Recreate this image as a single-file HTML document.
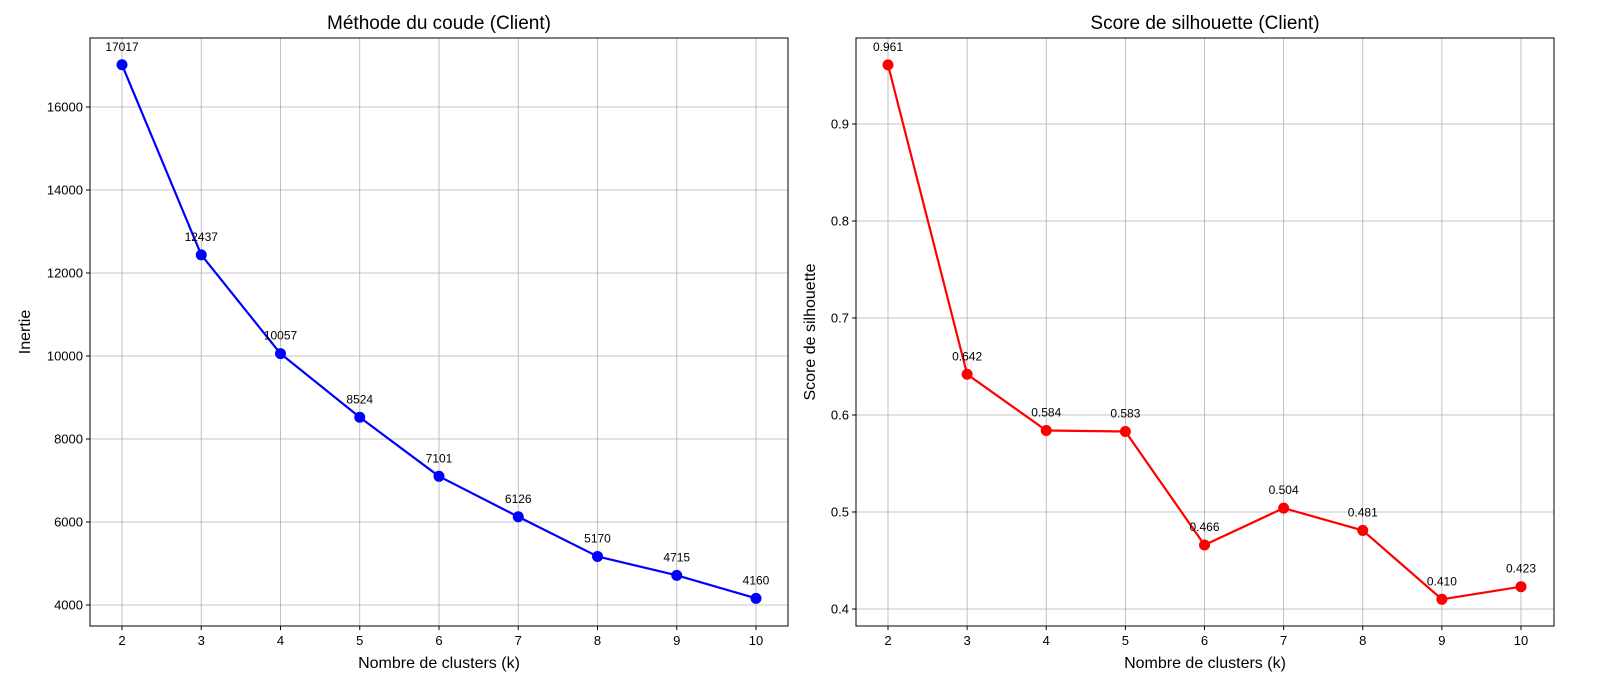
<!DOCTYPE html>
<html><head><meta charset="utf-8">
<style>
body{margin:0;background:#fff;}
svg{display:block;font-family:"Liberation Sans","DejaVu Sans",sans-serif;}
</style></head>
<body>
<svg id="chart" width="1600" height="700" viewBox="0 0 1600 700" xmlns="http://www.w3.org/2000/svg"></svg>
<script>
const kValues = [2,3,4,5,6,7,8,9,10];
const inertiaValues = [17017,12437,10057,8524,7101,6126,5170,4715,4160];
const inertiaLabels = ["17017","12437","10057","8524","7101","6126","5170","4715","4160"];
const silhouetteValues = [0.961,0.642,0.584,0.583,0.466,0.504,0.481,0.410,0.423];
const silhouetteLabels = ["0.961","0.642","0.584","0.583","0.466","0.504","0.481","0.410","0.423"];
const inertiaTicks = [4000,6000,8000,10000,12000,14000,16000];
const silhouetteTicks = [0.4,0.5,0.6,0.7,0.8,0.9];
const silhouetteTickLabels = ["0.4","0.5","0.6","0.7","0.8","0.9"];

const NS="http://www.w3.org/2000/svg";
const svg=document.getElementById('chart');
function mk(tag,attrs,parent){const e=document.createElementNS(NS,tag);for(const k in attrs)e.setAttribute(k,attrs[k]);(parent||svg).appendChild(e);return e;}

function panel(cfg){
  const g=mk('g',{});
  
  
  const L=cfg.left,R=cfg.right,T=38,B=626;
  const xs=v=>cfg.x0+(v-2)*cfg.xu;
  const ys=v=>cfg.y0-(v-cfg.yBase)*cfg.yu;
  // grid
  kValues.forEach(k=>{const l=mk('line',{x1:xs(k),x2:xs(k),y1:T,y2:B,stroke:'#b0b0b0','stroke-width':0.8},g);
    });
  cfg.ticks.forEach(t=>{const l=mk('line',{x1:L,x2:R,y1:ys(t),y2:ys(t),stroke:'#b0b0b0','stroke-width':0.8},g);
    });
  // frame
  const f=mk('rect',{x:L,y:T,width:R-L,height:B-T,fill:'none',stroke:'#000','stroke-width':1},g);
  
  // x ticks
  kValues.forEach(k=>{mk('line',{x1:xs(k),x2:xs(k),y1:B,y2:B+4,stroke:'#000'},g);
    const t=mk('text',{x:xs(k),y:B+19,'font-size':13,'text-anchor':'middle'},g);t.textContent=k;
    });
  cfg.ticks.forEach((v,i)=>{mk('line',{x1:L-4,x2:L,y1:ys(v),y2:ys(v),stroke:'#000'},g);
    const t=mk('text',{x:L-7,y:ys(v)+4.5,'font-size':13,'text-anchor':'end'},g);t.textContent=cfg.tickLabels[i];
    });
  // line
  const pts=kValues.map((k,i)=>xs(k)+','+ys(cfg.vals[i])).join(' ');
  const pl=mk('polyline',{points:pts,fill:'none',stroke:cfg.color,'stroke-width':2.2,'stroke-linejoin':'round'},g);
  
  kValues.forEach((k,i)=>{
    const c=mk('circle',{cx:xs(k),cy:ys(cfg.vals[i]),r:5.5,fill:cfg.color},g);
    
    const t=mk('text',{x:xs(k),y:ys(cfg.vals[i])-14,'font-size':12,'text-anchor':'middle'},g);t.textContent=cfg.labels[i];
    
  });
  const ti=mk('text',{x:(L+R)/2,y:29,'font-size':19,'text-anchor':'middle'},g);ti.textContent=cfg.title;
  
  const xl=mk('text',{x:(L+R)/2,y:668,'font-size':16,'text-anchor':'middle'},g);xl.textContent='Nombre de clusters (k)';
  
  const yx=cfg.ylabX,yy=(T+B)/2;
  const yl=mk('text',{x:yx,y:yy,'font-size':16,'text-anchor':'middle',transform:`rotate(-90 ${yx} ${yy})`},g);yl.textContent=cfg.ylabel;
  
}
panel({name:'elbow-chart',left:90,right:788,x0:122,xu:79.25,y0:605,yBase:4000,yu:0.0415,
  ticks:inertiaTicks,tickLabels:inertiaTicks.map(String),vals:inertiaValues,labels:inertiaLabels,
  color:'#0000ff',title:'Méthode du coude (Client)',ylabel:'Inertie',ylabX:30});
panel({name:'silhouette-chart',left:856,right:1554,x0:888,xu:79.125,y0:609,yBase:0.4,yu:970,
  ticks:silhouetteTicks,tickLabels:silhouetteTickLabels,vals:silhouetteValues,labels:silhouetteLabels,
  color:'#ff0000',title:'Score de silhouette (Client)',ylabel:'Score de silhouette',ylabX:815});
</script>
</body></html>
